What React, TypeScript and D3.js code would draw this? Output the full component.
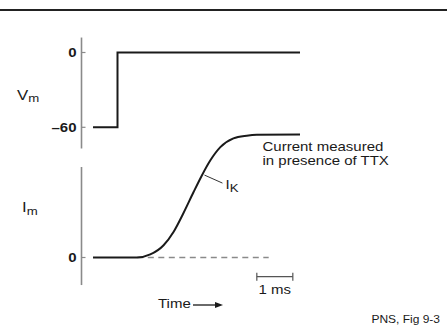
import * as d3 from "d3";
import React from "react";

// voltage step (mV) and K current (normalised) vs time in ms
const vmTime = [-0.68, 0, 0, 5.07];
const vmValue = [-60, -60, 0, 0];
const imTime = [-0.68, 0.54, 0.91, 1.28, 1.56, 1.83, 2.11, 2.34, 2.58, 2.85, 3.22, 3.59, 3.87, 5.07];
const imValue = [0, 0, 0.025, 0.1, 0.21, 0.36, 0.53, 0.665, 0.79, 0.895, 0.968, 0.99, 0.997, 1];
const vmTicks = [0, -60];
const imTicks = [0];
const baselineSpan = [0.55, 4.2]; // dashed zero line (ms)
const scaleBarSpan = [3.87, 4.87]; // 1 ms scale bar

const W = 447;
const H = 330;
const FONT = "'Liberation Sans', Arial, Helvetica, sans-serif";
const SX = 1.2; // the figure is stretched horizontally
const INK = "#1a1a1a";
const AXIS = "#8a8a8a";

function Label({ x, y, size = 12.5, anchor = "start", weight = "normal", children }: any) {
  return (
    <text
      transform={`translate(${x},${y}) scale(${SX},1)`}
      fontSize={size}
      fontFamily={FONT}
      fontWeight={weight}
      textAnchor={anchor}
      fill={INK}
    >
      {children}
    </text>
  );
}

export default function App() {
  const x = d3.scaleLinear().domain([-1, 5]).range([81.5, 297.5]);
  const yV = d3.scaleLinear().domain([-60, 0]).range([127.3, 52.5]);
  const yI = d3.scaleLinear().domain([0, 1]).range([257.5, 134.5]);

  const vmLine = d3
    .line<number>()
    .x((d, i) => x(vmTime[i]))
    .y((d) => yV(d))(vmValue);

  const imLine = d3
    .line<number>()
    .x((d, i) => x(imTime[i]))
    .y((d) => yI(d))
    .curve(d3.curveMonotoneX)(imValue);

  const axisX = x(-1);
  // leader line for I_K
  const ikT = 2.36;
  const ikX = x(ikT);
  const ikY = yI(0.67);

  const sb0 = x(scaleBarSpan[0]);
  const sb1 = x(scaleBarSpan[1]);
  const sbY = yI(-0.156);

  return (
    <svg
      width={W}
      height={H}
      style={{ position: "absolute", left: 0, top: 0, background: "#fff" }}
    >
      {/* top rule */}
      <line x1={0} x2={W} y1={10} y2={10} stroke="#222" strokeWidth={2} />

      {/* Vm axis */}
      <line x1={axisX} x2={axisX} y1={yV(12)} y2={yV(-77)} stroke={AXIS} strokeWidth={1.6} />
      {vmTicks.map((t) => (
        <g key={"v" + t}>
          <line x1={axisX} x2={axisX + 4} y1={yV(t)} y2={yV(t)} stroke={AXIS} strokeWidth={1.2} />
          <Label x={axisX - 5} y={yV(t) + 4.5} anchor="end" weight="bold">
            {t < 0 ? "\u2013" + Math.abs(t) : t}
          </Label>
        </g>
      ))}

      {/* Im axis */}
      <line x1={axisX} x2={axisX} y1={yI(0.736)} y2={yI(-0.224)} stroke={AXIS} strokeWidth={1.6} />
      {imTicks.map((t) => (
        <g key={"i" + t}>
          <line x1={axisX} x2={axisX + 4} y1={yI(t)} y2={yI(t)} stroke={AXIS} strokeWidth={1.2} />
          <Label x={axisX - 5} y={yI(t) + 4.5} anchor="end" weight="bold">
            {t}
          </Label>
        </g>
      ))}

      {/* axis titles */}
      <Label x={17} y={100} size={14}>
        V<tspan fontSize={11} dy={2}>m</tspan>
      </Label>
      <Label x={22} y={212} size={14}>
        I<tspan fontSize={11} dy={3}>m</tspan>
      </Label>

      {/* dashed zero line */}
      <line
        x1={x(baselineSpan[0])}
        x2={x(baselineSpan[1])}
        y1={yI(0)}
        y2={yI(0)}
        stroke={AXIS}
        strokeWidth={1.4}
        strokeDasharray="6 4.5"
      />

      {/* traces */}
      <path d={vmLine || ""} fill="none" stroke={INK} strokeWidth={2} />
      <path d={imLine || ""} fill="none" stroke={INK} strokeWidth={2} />

      {/* I_K annotation */}
      <line x1={ikX + 2} y1={ikY} x2={ikX + 20} y2={ikY + 8} stroke="#333" strokeWidth={1} />
      <Label x={ikX + 23} y={ikY + 14}>
        I<tspan fontSize={11} dy={3}>K</tspan>
      </Label>

      <Label x={262.5} y={150.5}>Current measured</Label>
      <Label x={262.5} y={164.5}>in presence of TTX</Label>

      {/* scale bar */}
      <g stroke="#555" strokeWidth={1.2}>
        <line x1={sb0} x2={sb1} y1={sbY} y2={sbY} />
        <line x1={sb0} x2={sb0} y1={sbY - 4} y2={sbY + 4} />
        <line x1={sb1} x2={sb1} y1={sbY - 4} y2={sbY + 4} />
      </g>
      <Label x={(sb0 + sb1) / 2} y={294} anchor="middle">
        1 ms
      </Label>

      {/* time arrow */}
      <Label x={158} y={308}>Time</Label>
      <line x1={193} x2={217} y1={305} y2={305} stroke={INK} strokeWidth={1.3} />
      <path d="M223,305 L215,302 L215,308 Z" fill={INK} />

      <Label x={440} y={323} size={10} anchor="end">
        PNS, Fig 9-3
      </Label>
    </svg>
  );
}
